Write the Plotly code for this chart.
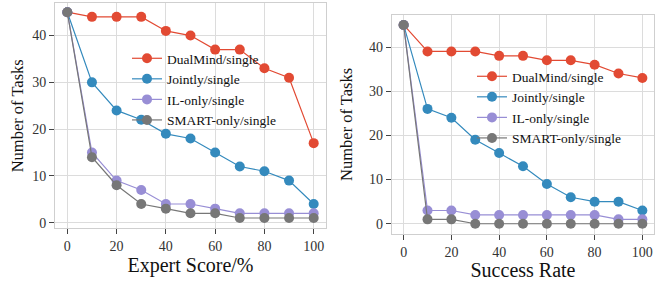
import plotly.graph_objects as go

x_vals = [0, 10, 20, 30, 40, 50, 60, 70, 80, 90, 100]
series_names = ["DualMind/single", "Jointly/single", "IL-only/single", "SMART-only/single"]
colors = ["#E24A33", "#348ABD", "#988ED5", "#777777"]

left_dualmind = [45, 44, 44, 44, 41, 40, 37, 37, 33, 31, 17]
left_jointly = [45, 30, 24, 22, 19, 18, 15, 12, 11, 9, 4]
left_ilonly = [45, 15, 9, 7, 4, 4, 3, 2, 2, 2, 2]
left_smart = [45, 14, 8, 4, 3, 2, 2, 1, 1, 1, 1]

right_dualmind = [45, 39, 39, 39, 38, 38, 37, 37, 36, 34, 33]
right_jointly = [45, 26, 24, 19, 16, 13, 9, 6, 5, 5, 3]
right_ilonly = [45, 3, 3, 2, 2, 2, 2, 2, 2, 1, 1]
right_smart = [45, 1, 1, 0, 0, 0, 0, 0, 0, 0, 0]

x_ticks = [0, 20, 40, 60, 80, 100]
y_ticks = [0, 10, 20, 30, 40]

W, H = 668, 281
FONT = "'Liberation Serif', 'Times New Roman', Times, serif"

fig = go.Figure()

left_series = [left_dualmind, left_jointly, left_ilonly, left_smart]
right_series = [right_dualmind, right_jointly, right_ilonly, right_smart]

for name, ys, c in zip(series_names, left_series, colors):
    fig.add_trace(go.Scatter(x=x_vals, y=ys, name=name, mode="lines+markers",
                             line=dict(color=c, width=1.2),
                             marker=dict(color=c, size=10, line=dict(width=0)),
                             xaxis="x", yaxis="y", legend="legend"))
for name, ys, c in zip(series_names, right_series, colors):
    fig.add_trace(go.Scatter(x=x_vals, y=ys, name=name, mode="lines+markers",
                             line=dict(color=c, width=1.2),
                             marker=dict(color=c, size=10, line=dict(width=0)),
                             xaxis="x2", yaxis="y2", legend="legend2"))

def px_x(p):
    return p / W

def px_y(p):
    return 1 - p / H

axis_common = dict(
    showgrid=True, gridcolor="#dcdcdc", gridwidth=1,
    showline=True, linecolor="#cfcfcf", linewidth=1, mirror=True,
    ticks="outside", ticklen=5, tickcolor="#444444", tickwidth=1,
    tickfont=dict(family=FONT, size=14, color="#333333"),
    zeroline=False, automargin=False,
)

fig.update_layout(
    width=W, height=H,
    margin=dict(l=0, r=0, t=0, b=0, autoexpand=False),
    paper_bgcolor="white", plot_bgcolor="white",
    font=dict(family=FONT, color="#222222"),
    xaxis=dict(domain=[px_x(55), px_x(326)], range=[-5, 105], tickvals=x_ticks,
               anchor="y", title=dict(text="Expert Score/%", font=dict(family=FONT, size=20, color="#111111"), standoff=1),
               **axis_common),
    yaxis=dict(domain=[px_y(228.3), px_y(3.3)], range=[-1.2, 46.9], tickvals=y_ticks,
               anchor="x", title=dict(text="Number of Tasks", font=dict(family=FONT, size=16.5, color="#111111"), standoff=3.5),
               **axis_common),
    xaxis2=dict(domain=[px_x(391.7), px_x(654.3)], range=[-5, 105], tickvals=x_ticks,
                anchor="y2", title=dict(text="Success Rate", font=dict(family=FONT, size=20, color="#111111"), standoff=3),
                **axis_common),
    yaxis2=dict(domain=[px_y(233.7), px_y(15)], range=[-2.25, 47.25], tickvals=y_ticks,
                anchor="x2", title=dict(text="Number of Tasks", font=dict(family=FONT, size=16.5, color="#111111"), standoff=12),
                **axis_common),
    legend=dict(x=px_x(127), y=px_y(43), xanchor="left", yanchor="top",
                bgcolor="rgba(0,0,0,0)", font=dict(family=FONT, size=13.5, color="#111111"),
                tracegroupgap=0),
    legend2=dict(x=px_x(472), y=px_y(61), xanchor="left", yanchor="top",
                 bgcolor="rgba(0,0,0,0)", font=dict(family=FONT, size=13.5, color="#111111"),
                 tracegroupgap=0),
)

fig.write_html("out.html", config={"displayModeBar": False},
               post_script="document.body.style.margin='0';document.body.style.padding='0';")
